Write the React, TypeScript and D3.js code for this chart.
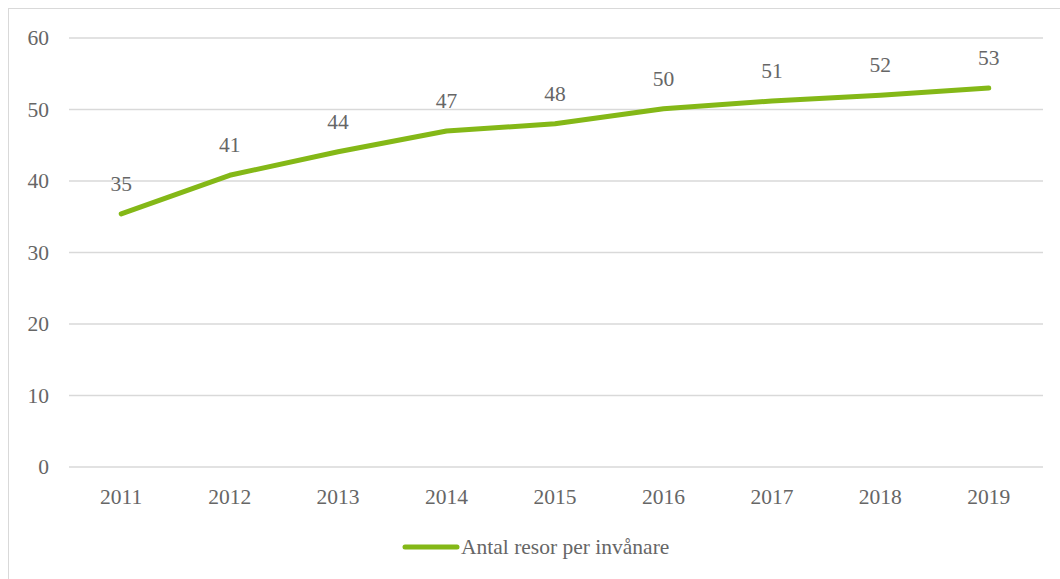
import React from "react";
import * as d3 from "d3";

const years = ["2011", "2012", "2013", "2014", "2015", "2016", "2017", "2018", "2019"];
const values = [35.4, 40.8, 44.1, 47.0, 48.0, 50.1, 51.2, 52.0, 53.0];
const valueLabels = ["35", "41", "44", "47", "48", "50", "51", "52", "53"];
const yTicks = [0, 10, 20, 30, 40, 50, 60];
const seriesName = "Antal resor per invånare";

const W = 1060;
const H = 579;
const left = 67;
const right = 1043;
const top = 38;
const bottom = 467;
const green = "#84B817";
const textColor = "#666666";
const font = "'Liberation Serif', 'DejaVu Serif', serif";
const fs = 21.5;

export default function App() {
  const x = d3.scaleBand<string>().domain(years).range([left, right]);
  const y = d3.scaleLinear().domain([0, 60]).range([bottom, top]);
  const line = d3
    .line<number>()
    .x((_, i) => (x(years[i]) as number) + x.bandwidth() / 2)
    .y((d) => y(d));

  return (
    <svg
      width={W}
      height={H}
      style={{ position: "absolute", left: 0, top: 0, background: "#fff" }}
      fontFamily={font}
    >
      <rect x={8.5} y={8.5} width={W} height={H} fill="#fff" stroke="#d9d9d9" strokeWidth={1} />
      {yTicks.map((t) => (
        <g key={t}>
          <line x1={left + 2} x2={right} y1={y(t)} y2={y(t)} stroke="#d9d9d9" strokeWidth={1.3} />
          <text x={49} y={y(t)} dy="0.33em" textAnchor="end" fontSize={fs} fill={textColor}>
            {t}
          </text>
        </g>
      ))}
      {years.map((yr) => (
        <text
          key={yr}
          x={(x(yr) as number) + x.bandwidth() / 2}
          y={504}
          textAnchor="middle"
          fontSize={fs}
          fill={textColor}
        >
          {yr}
        </text>
      ))}
      <path d={line(values) || ""} fill="none" stroke={green} strokeWidth={5} strokeLinecap="round" strokeLinejoin="round" />
      {values.map((v, i) => (
        <text
          key={i}
          x={(x(years[i]) as number) + x.bandwidth() / 2}
          y={y(v) - 23}
          textAnchor="middle"
          fontSize={fs}
          fill={textColor}
        >
          {valueLabels[i]}
        </text>
      ))}
      <line x1={405} x2={457} y1={547} y2={547} stroke={green} strokeWidth={5} strokeLinecap="round" />
      <text x={461} y={554} fontSize={fs} fill={textColor}>
        {seriesName}
      </text>
    </svg>
  );
}
